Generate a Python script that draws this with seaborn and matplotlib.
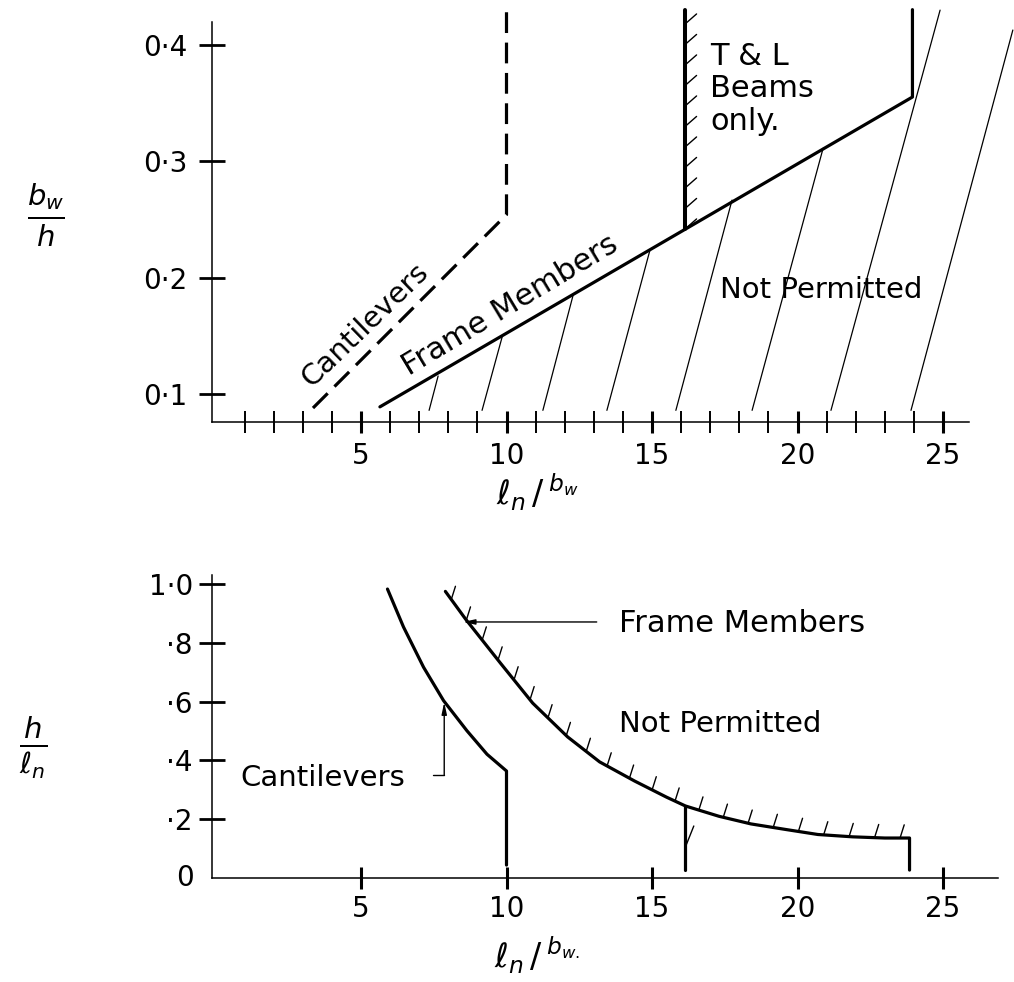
import numpy as np
import matplotlib
matplotlib.use("Agg")
import matplotlib.pyplot as plt
import seaborn as sns

# ---- data ----
# top panel: b_w/h against l_n/b_w
cant_top_x = [3.35, 10.0, 10.0]
cant_top_y = [0.088, 0.254, 0.43]
frame_top_x = [5.65, 23.95, 23.95]
frame_top_y = [0.089, 0.355, 0.43]
tl_top_x = [16.15, 16.15]
tl_top_y = [0.2417, 0.43]
# "not permitted" shading lines (bottom end, top end)
shade_x0 = [7.34, 9.16, 11.25, 13.45, 15.82, 18.44, 21.15, 23.9]
shade_y0 = [0.086, 0.086, 0.086, 0.086, 0.086, 0.086, 0.086, 0.086]
shade_x1 = [7.65, 9.85, 12.29, 14.93, 17.75, 20.88, 24.9, 27.4]
shade_y1 = [0.1155, 0.149, 0.185, 0.2236, 0.2665, 0.311, 0.4296, 0.4125]
top_xticks = [5, 10, 15, 20, 25]
top_yticks = [0.1, 0.2, 0.3, 0.4]
top_ylabels = ["0·1", "0·2", "0·3", "0·4"]

# bottom panel: h/l_n against l_n/b_w
cant_bot_x = [5.91, 6.46, 7.15, 7.84, 8.64, 9.33, 10.0, 10.0]
cant_bot_y = [0.983, 0.854, 0.717, 0.603, 0.501, 0.421, 0.364, 0.044]
frame_bot_x = [7.9, 8.6, 9.8, 10.9, 12.1, 13.2, 14.4, 15.5, 16.15, 17.3,
               18.4, 19.6, 20.7, 21.9, 23.0, 23.85, 23.85]
frame_bot_y = [0.975, 0.88, 0.73, 0.595, 0.48, 0.395, 0.33, 0.275, 0.245,
               0.21, 0.184, 0.165, 0.148, 0.14, 0.136, 0.136, 0.027]
tl_bot_x = [16.15, 16.15]
tl_bot_y = [0.245, 0.027]
bot_xticks = [5, 10, 15, 20, 25]
bot_yticks = [0.2, 0.4, 0.6, 0.8, 1.0]
bot_ylabels = ["·2", "·4", "·6", "·8", "1·0"]

sns.set_style("white")
plt.rcParams["font.family"] = ["DejaVu Sans"]
plt.rcParams["mathtext.fontset"] = "dejavusans"
for k in ("text.color", "axes.labelcolor", "xtick.color", "ytick.color"):
    plt.rcParams[k] = "black"

W, H = 1014, 982
fig = plt.figure(figsize=(W / 100, H / 100), dpi=100)

# pixel calibration of the drawing
X0, PX = 215.5, 29.1
left_px = 211.5
xlim = ((left_px - X0) / PX, (W - X0) / PX)

ax1 = fig.add_axes([left_px / W, (H - 422) / H, (W - left_px) / W, 417 / H])
ax2 = fig.add_axes([left_px / W, (H - 878) / H, (W - left_px) / W, 306 / H])
ax1.set_xlim(*xlim)
ax1.set_ylim(0.076, 0.434)
ax2.set_xlim(*xlim)
ax2.set_ylim(0, 1.041)

for ax in (ax1, ax2):
    ax.set_facecolor("white")
    for s in ("top", "right"):
        ax.spines[s].set_visible(False)
    for s in ("left", "bottom"):
        ax.spines[s].set_color("black")
        ax.spines[s].set_linewidth(1.1)
ax1.spines["left"].set_bounds(0.076, 0.419)
ax1.spines["bottom"].set_bounds(xlim[0], 25.9)
ax2.spines["left"].set_bounds(0, 1.03)
ax2.spines["bottom"].set_bounds(xlim[0], 26.9)

LW = 2.3
# top panel lines
sns.lineplot(x=cant_top_x, y=cant_top_y, sort=False, estimator=None, ax=ax1,
             color="black", lw=LW, linestyle=(0, (6.5, 3)))
sns.lineplot(x=frame_top_x, y=frame_top_y, sort=False, estimator=None, ax=ax1,
             color="black", lw=LW)
sns.lineplot(x=tl_top_x, y=tl_top_y, sort=False, estimator=None, ax=ax1,
             color="black", lw=LW + 0.6)
for xa, ya, xb, yb in zip(shade_x0, shade_y0, shade_x1, shade_y1):
    ax1.plot([xa, xb], [ya, yb], color="black", lw=0.9, clip_on=False)

# bottom panel lines
sns.lineplot(x=cant_bot_x, y=cant_bot_y, sort=False, estimator=None, ax=ax2,
             color="black", lw=LW)
sns.lineplot(x=frame_bot_x, y=frame_bot_y, sort=False, estimator=None, ax=ax2,
             color="black", lw=LW)
sns.lineplot(x=tl_bot_x, y=tl_bot_y, sort=False, estimator=None, ax=ax2,
             color="black", lw=LW)


def hatch(ax, xs, ys, step, off, start=0.0, stop=None, lw=1.0):
    pts = ax.transData.transform(np.column_stack([xs, ys]))
    seg = np.hypot(*np.diff(pts, axis=0).T)
    cum = np.concatenate([[0], np.cumsum(seg)])
    end = cum[-1] if stop is None else stop
    s = np.arange(start, end, step)
    p = np.column_stack([np.interp(s, cum, pts[:, 0]), np.interp(s, cum, pts[:, 1])])
    for x, y in ax.transData.inverted().transform(p):
        ax.annotate("", xy=(x, y), xytext=off, textcoords="offset points",
                    arrowprops=dict(arrowstyle="-", lw=lw, color="black",
                                    shrinkA=0, shrinkB=0))


# hatching on the T & L limit (top) and the frame-member curve (bottom)
hatch(ax1, tl_top_x[::-1], tl_top_y[::-1], 20.5, (8, 7), start=14)
hatch(ax2, frame_bot_x[:-1], frame_bot_y[:-1], 25.5, (3, 9.5), start=10, lw=1.0)
ax2.annotate("", xy=(16.15, 0.106), xytext=(6, 15), textcoords="offset points",
             arrowprops=dict(arrowstyle="-", lw=1.0, color="black",
                             shrinkA=0, shrinkB=0))

# ticks
ax1.set_xticks(top_xticks)
ax1.set_xticks([v for v in range(1, 26) if v % 5], minor=True)
ax1.set_yticks(top_yticks, top_ylabels)
ax1.tick_params(axis="x", which="major", direction="inout", length=16.5,
                width=2.2, pad=6, labelsize=20, bottom=True)
ax1.tick_params(axis="x", which="minor", direction="inout", length=16.5,
                width=1.4, bottom=True)
ax1.tick_params(axis="y", direction="inout", length=19, width=2.0, pad=8,
                labelsize=20, left=True)

ax2.set_xticks(bot_xticks)
ax2.set_yticks(bot_yticks, bot_ylabels)
ax2.tick_params(axis="x", direction="inout", length=16, width=2.2, pad=4,
                labelsize=20, bottom=True)
ax2.tick_params(axis="y", direction="inout", length=19, width=2.0, pad=4,
                labelsize=20, left=True)
ax2.text(-1.05, 0, "0", fontsize=20, ha="center", va="center")

# annotations, top panel
ax1.text(5.14, 0.159, "Cantilevers", fontsize=21, rotation=44,
         rotation_mode="anchor", ha="center", va="center")
ax1.text(10.12, 0.176, "Frame Members", fontsize=22, rotation=31,
         rotation_mode="anchor", ha="center", va="center")
ax1.text(17.0, 0.362, "T & L\nBeams\nonly.", fontsize=22, ha="left",
         va="center", linespacing=1.15)
ax1.text(17.35, 0.189, "Not Permitted", fontsize=21, ha="left", va="center")

# annotations, bottom panel
ax2.text(13.85, 0.867, "Frame Members", fontsize=22, ha="left", va="center")
ax2.annotate("", xy=(8.5, 0.871), xytext=(13.1, 0.871),
             arrowprops=dict(arrowstyle="-|>,head_length=0.7,head_width=0.15",
                             lw=1.0, color="black", shrinkA=0, shrinkB=0))
ax2.text(13.85, 0.525, "Not Permitted", fontsize=21, ha="left", va="center")
ax2.text(0.85, 0.34, "Cantilevers", fontsize=21, ha="left", va="center")
ax2.plot([7.48, 7.86], [0.35, 0.35], color="black", lw=1.0)
ax2.annotate("", xy=(7.86, 0.598), xytext=(7.86, 0.35),
             arrowprops=dict(arrowstyle="-|>,head_length=0.7,head_width=0.15",
                             lw=1.0, color="black", shrinkA=0, shrinkB=0))

# axis titles as drawn fractions
fig.text(46 / W, 1 - 215 / H, r"$\frac{b_w}{h}$", fontsize=30, ha="center", va="center")
fig.text(33 / W, 1 - 747 / H, r"$\frac{h}{\ell_n}$", fontsize=30, ha="center", va="center")
fig.text(537 / W, 1 - 492 / H, r"$\ell_n\,/\,{}^{b_w}$", fontsize=24, ha="center", va="center")
fig.text(537 / W, 1 - 955 / H, r"$\ell_n\,/\,{}^{b_{w.}}$", fontsize=24, ha="center", va="center")

fig.savefig("out.png", dpi=100, facecolor="white")
